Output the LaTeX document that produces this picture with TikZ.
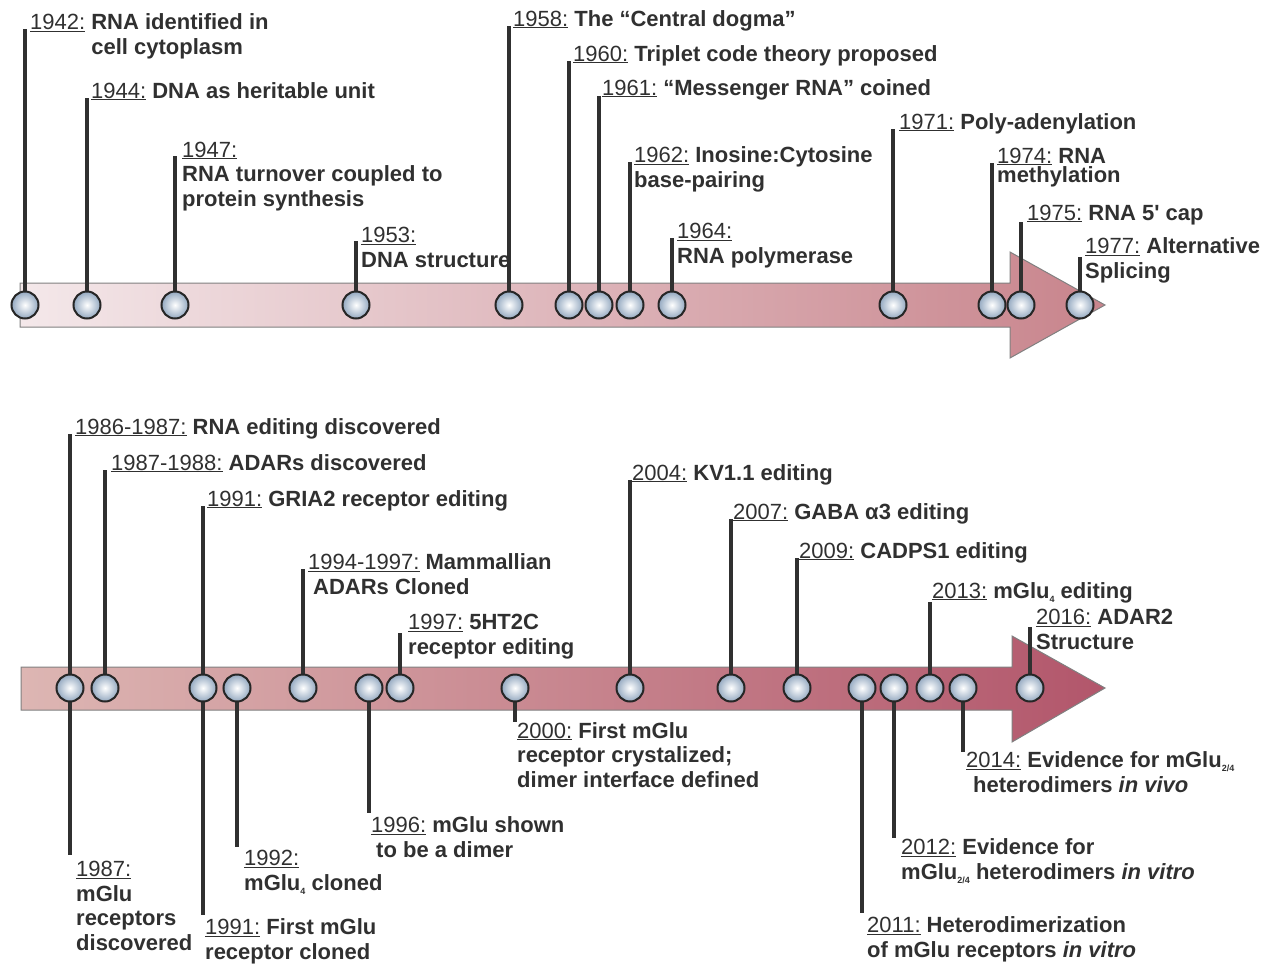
\documentclass[tikz,border=0pt]{standalone}
\usepackage{fontspec}
\setmainfont{Liberation Sans}
\definecolor{txt}{HTML}{303030}
\definecolor{stemc}{HTML}{303030}
\definecolor{ballline}{HTML}{262626}
\definecolor{ballblue}{HTML}{93A8C0}
\definecolor{arrline}{HTML}{808080}
\definecolor{topL}{HTML}{F4E8EA}
\definecolor{topR}{HTML}{C8848C}
\definecolor{botL}{HTML}{DDB6B3}
\definecolor{botR}{HTML}{B2566B}
\newcommand{\yr}[1]{{\mdseries\underline{#1:}}}
\newcommand{\lowidx}[1]{\raisebox{-0.35ex}{\fontsize{9}{9}\selectfont #1}}
\begin{document}
\begin{tikzpicture}[x=1pt,y=-1pt,
  ball/.style={circle, minimum size=27pt, inner sep=0pt, draw=ballline, line width=2pt, inner color=white, outer color=ballblue},
  stem/.style={draw=stemc, line width=3.2pt},
  lab/.style={anchor=base west, inner sep=0pt, align=left, text=txt, font=\fontsize{22}{24.5}\selectfont\bfseries}]
\useasboundingbox (0,0) rectangle (1270,964);
% arrows
\shade[left color=topL, right color=topR, draw=arrline, line width=1pt]
  (20,283) -- (1010,283) -- (1010,252) -- (1105,305) -- (1010,358) -- (1010,327) -- (20,327) -- cycle;
\shade[left color=botL, right color=botR, draw=arrline, line width=1pt]
  (21,667) -- (1012,667) -- (1012,636) -- (1105,688) -- (1012,742) -- (1012,710) -- (21,710) -- cycle;
% stem ends
\foreach \x/\y in {25/29, 87/98, 175/156, 356/241, 509/26, 569/61, 599/96, 630/162, 672/238, 893/129, 992/163, 1021/222, 1080/257}
  {\coordinate (te\x) at (\x,\y); \draw[stem] (\x,305) -- (te\x);}
\foreach \x/\y in {70/434, 105/470, 203/506, 303/569, 400/633, 630/480, 731/519, 797/558, 930/602, 1030/627}
  {\coordinate (bu\x) at (\x,\y); \draw[stem] (\x,688) -- (bu\x);}
\foreach \x/\y in {70/855, 203/915, 237/847, 369/813, 515/722, 862/913, 894/838, 963/752}
  {\coordinate (bd\x) at (\x,\y); \draw[stem] (\x,688) -- (bd\x);}
% balls
\foreach \x in {25,87,175,356,509,569,599,630,672,893,992,1021,1080}
  \node[ball] (t\x) at (\x,305) {};
\foreach \x in {70,105,203,237,303,369,400,515,630,731,797,862,894,930,963,1030}
  \node[ball] (b\x) at (\x,688) {};
% top labels (multi-line nodes are placed by their last baseline)
\node[lab] (l1942) at (30,54) {\yr{1942} RNA identified in\\\hphantom{\yr{1942}\ }cell cytoplasm};
\node[lab] (l1944) at (91,98) {\yr{1944} DNA as heritable unit};
\node[lab] (l1947) at (182,206) {\yr{1947}\\RNA turnover coupled to\\protein synthesis};
\node[lab] (l1953) at (361,267) {\yr{1953}\\DNA structure};
\node[lab] (l1958) at (513,26) {\yr{1958} The “Central dogma”};
\node[lab] (l1960) at (573,61) {\yr{1960} Triplet code theory proposed};
\node[lab] (l1961) at (602,95) {\yr{1961} “Messenger RNA” coined};
\node[lab] (l1962) at (634,187) {\yr{1962} Inosine:Cytosine\\base-pairing};
\node[lab] (l1964) at (677,263) {\yr{1964}\\RNA polymerase};
\node[lab] (l1971) at (899,129) {\yr{1971} Poly-adenylation};
\node[lab] (l1974) at (997,182) {\yr{1974} RNA\\[-5.5pt]methylation};
\node[lab] (l1975) at (1027,220) {\yr{1975} RNA 5\textquotesingle\ cap};
\node[lab] (l1977) at (1085,278) {\yr{1977} Alternative\\Splicing};
% bottom upper labels
\node[lab] (l1986) at (75,434) {\yr{1986-1987} RNA editing discovered};
\node[lab] (l1987u) at (111,470) {\yr{1987-1988} ADARs discovered};
\node[lab] (l1991u) at (207,506) {\yr{1991} GRIA2 receptor editing};
\node[lab] (l1994) at (308,594) {\yr{1994-1997} Mammallian\\\hspace*{5pt}ADARs Cloned};
\node[lab] (l1997) at (408,654) {\yr{1997} 5HT2C\\receptor editing};
\node[lab] (l2004) at (632,480) {\yr{2004} KV1.1 editing};
\node[lab] (l2007) at (733,519) {\yr{2007} GABA α3 editing};
\node[lab] (l2009) at (799,558) {\yr{2009} CADPS1 editing};
\node[lab] (l2013) at (932,598) {\yr{2013} mGlu\lowidx{4} editing};
\node[lab] (l2016) at (1036,649) {\yr{2016} ADAR2\\Structure};
% bottom lower labels
\node[lab] (l1987d) at (76,950) {\yr{1987}\\mGlu\\receptors\\discovered};
\node[lab] (l1991d) at (205,959) {\yr{1991} First mGlu\\receptor cloned};
\node[lab] (l1992) at (244,890) {\yr{1992}\\mGlu\lowidx{4} cloned};
\node[lab] (l1996) at (371,857) {\yr{1996} mGlu shown\\\hspace*{5pt}to be a dimer};
\node[lab] (l2000) at (517,787) {\yr{2000} First mGlu\\receptor crystalized;\\dimer interface defined};
\node[lab] (l2011) at (867,957) {\yr{2011} Heterodimerization\\of mGlu receptors \textit{in vitro}};
\node[lab] (l2012) at (901,879) {\yr{2012} Evidence for\\mGlu\lowidx{2/4} heterodimers \textit{in vitro}};
\node[lab] (l2014) at (966,792) {\yr{2014} Evidence for mGlu\lowidx{2/4}\\\hspace*{7pt}heterodimers \textit{in vivo}};
\end{tikzpicture}
\end{document}
